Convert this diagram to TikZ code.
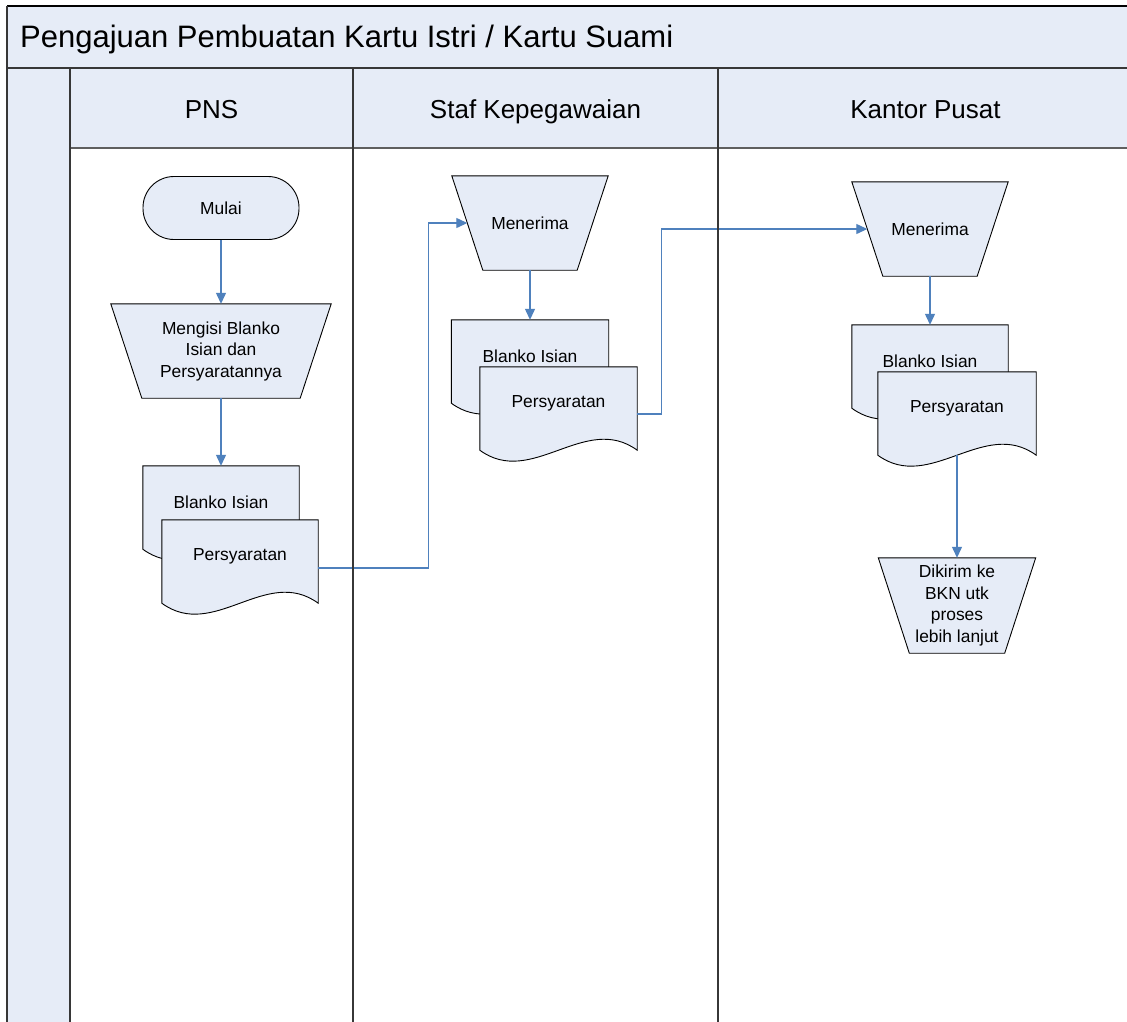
\documentclass[tikz,border=0pt]{standalone}
\usepackage{fontspec}
\setmainfont{Liberation Sans}
\usetikzlibrary{arrows.meta,calc}
\definecolor{lb}{RGB}{230,236,247}
\definecolor{connblue}{RGB}{79,129,189}
\definecolor{lanegray}{RGB}{55,55,55}
\pgfdeclarelayer{fillbg}
\pgfdeclarelayer{shapebg}
\pgfdeclarelayer{lanetop}
\pgfsetlayers{fillbg,shapebg,main,lanetop}
\newcommand\trapout[1]{\draw[shp] (#1.north west) -- (#1.north east) -- ([xshift=-31pt]#1.south east) -- ([xshift=31pt]#1.south west) -- cycle;}
\newcommand\docout[1]{\draw[shp] (#1.north west) -- (#1.north east) -- ([yshift=-11pt]#1.south east) .. controls ($(#1.south east)+(-52,-27)$) and ($(#1.south west)+(52,49)$) .. ([yshift=-11pt]#1.south west) -- cycle;}
\tikzset{
  box/.style={draw=none, inner sep=0pt, align=center, font=\fontsize{17.4}{21.5}\selectfont, text=black},
  trapbox/.style={box, minimum width=156pt, minimum height=94pt},
  docbox/.style={box, minimum width=156pt, minimum height=72pt},
  shp/.style={draw=black, line width=0.9pt, fill=lb},
  arrowline/.style={draw=connblue, line width=1.2pt, -{Triangle[width=10pt,length=11pt]}},
  laneline/.style={draw=lanegray, line width=2pt},
  lanehead/.style={font=\fontsize{26}{30}\selectfont, anchor=base, inner sep=0pt},
}
\begin{document}
\begin{tikzpicture}[x=1pt,y=-1pt]
\useasboundingbox (0,0) rectangle (1127,1021);
\clip (0,0) rectangle (1127,1021);
% pool background
\begin{pgfonlayer}{fillbg}
  \fill[white] (0,0) rectangle (1127,1021);
  \fill[lb] (7,6) rectangle (1140,68);
  \fill[lb] (7,68) rectangle (70,1030);
  \fill[lb] (70,68) rectangle (1140,148);
\end{pgfonlayer}
\begin{pgfonlayer}{lanetop}
  \draw[black, line width=1.5pt] (7,6) -- (1140,6);
  \draw[laneline] (7,6) -- (7,1030);
  \draw[laneline] (7,68) -- (1140,68);
  \draw[laneline] (70,68) -- (70,1030);
  \draw[draw=lanegray!80, line width=2pt] (71,148) -- (1140,148);
  \draw[laneline] (353,68) -- (353,1030);
  \draw[laneline] (718,68) -- (718,1030);
\end{pgfonlayer}
% titles
\node[font=\fontsize{31}{36}\selectfont, anchor=base west, inner sep=0pt] (title) at (20,47) {Pengajuan Pembuatan Kartu Istri / Kartu Suami};
\node[lanehead] (lpns) at (211.5,118) {PNS};
\node[lanehead] (lstaf) at (535.5,118) {Staf Kepegawaian};
\node[lanehead] (lkantor) at (925.5,118) {Kantor Pusat};
% PNS lane
\node[box, draw=black, fill=lb, line width=0.9pt, rounded corners=31pt, minimum width=156pt, minimum height=63pt] (mulai) at (221,208) {Mulai};
\node[trapbox, minimum width=220pt] (mengisi) at (221,351) {Mengisi Blanko\\Isian dan\\Persyaratannya};
\node[docbox] (blanko1) at (221,502) {Blanko Isian};
\node[docbox] (pers1) at (240,556) {Persyaratan};
% Staf lane
\node[trapbox] (menerima1) at (530,223) {Menerima};
\node[docbox, minimum width=157pt] (blanko2) at (530,356) {Blanko Isian};
\node[docbox, minimum width=157pt] (pers2) at (558.5,403) {Persyaratan};
% Kantor lane
\node[trapbox] (menerima2) at (930,229) {Menerima};
\node[docbox] (blanko3) at (930,361) {Blanko Isian};
\node[docbox, minimum width=158pt] (pers3) at (957,408) {Persyaratan};
\node[trapbox, minimum width=157pt, minimum height=95pt] (dikirim) at (957,605.5) {Dikirim ke\\BKN utk\\proses\\lebih lanjut};
% outlines
\begin{pgfonlayer}{shapebg}
  \trapout{mengisi}
  \docout{blanko1}
  \docout{pers1}
  \trapout{menerima1}
  \docout{blanko2}
  \docout{pers2}
  \trapout{menerima2}
  \docout{blanko3}
  \docout{pers3}
  \trapout{dikirim}
\end{pgfonlayer}
% connectors
\draw[arrowline] (mulai.south) -- (mengisi.north);
\draw[arrowline] (mengisi.south) -- (blanko1.north);
\draw[arrowline] ([yshift=-12pt]pers1.east) -- ++(110,0) |- ([xshift=15.5pt]menerima1.west);
\draw[arrowline] (menerima1.south) -- (blanko2.north);
\draw[arrowline] ([yshift=-11pt]pers2.east) -- ++(24,0) |- ([xshift=15.5pt]menerima2.west);
\draw[arrowline] (menerima2.south) -- (blanko3.north);
\draw[arrowline] ([yshift=-11pt]pers3.south) -- (dikirim.north);
\end{tikzpicture}
\end{document}
